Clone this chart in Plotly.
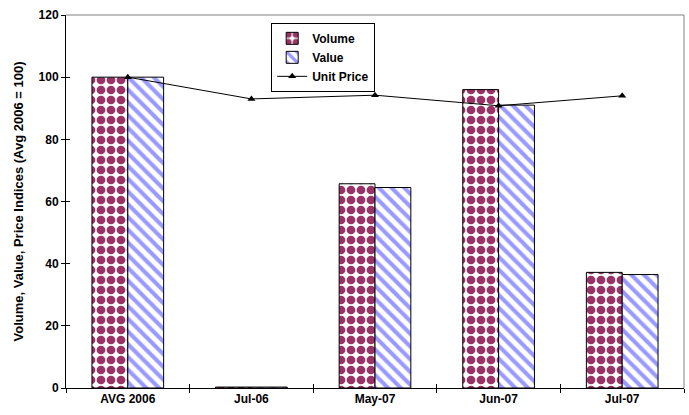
import plotly.graph_objects as go

categories = ["AVG 2006", "Jul-06", "May-07", "Jun-07", "Jul-07"]
volume = [100, 0.3, 65.7, 96.0, 37.2]
value = [100, 0.3, 64.5, 91.0, 36.5]
unit_price = [100, 93.0, 94.2, 90.8, 94.0]
y_ticks = [0, 20, 40, 60, 80, 100, 120]

FONT = "Liberation Sans, Arial, sans-serif"

fig = go.Figure()
fig.add_trace(go.Bar(
    x=categories, y=volume, name="Volume",
    marker=dict(color="white",
                line=dict(color="black", width=1),
                pattern=dict(shape=".", fgcolor="#993366", bgcolor="white",
                             size=10, solidity=0.6, fillmode="replace")),
))
fig.add_trace(go.Bar(
    x=categories, y=value, name="Value",
    marker=dict(color="white",
                line=dict(color="black", width=1),
                pattern=dict(shape="\\", fgcolor="#9999FF", bgcolor="white",
                             size=9, solidity=0.45, fillmode="replace")),
))
fig.add_trace(go.Scatter(
    x=categories, y=unit_price, name="Unit Price", mode="lines+markers",
    line=dict(color="black", width=1),
    marker=dict(symbol="triangle-up", size=7, color="black"),
))
# invisible helper traces for cross ticks
fig.add_trace(go.Scatter(x=categories, y=unit_price, xaxis="x2", yaxis="y2",
                         mode="markers", marker=dict(opacity=0), showlegend=False,
                         hoverinfo="skip"))

fig.update_layout(
    width=689, height=415,
    margin=dict(l=66, r=5, t=15, b=27),
    paper_bgcolor="white", plot_bgcolor="white",
    barmode="group", bargap=0.42, bargroupgap=0,
    font=dict(family=FONT, size=12, color="black"),
    showlegend=True,
    legend=dict(x=0.332, y=0.979, xanchor="left", yanchor="top",
                bordercolor="black", borderwidth=1, bgcolor="white",
                font=dict(family=FONT, size=12, color="black", weight="bold"),
                tracegroupgap=0, itemwidth=30),
    xaxis=dict(type="category", categoryarray=categories, tickson="boundaries",
               ticks="outside", ticklen=4, tickcolor="black",
               showline=True, linecolor="black", linewidth=1,
               mirror=False, showgrid=False,
               tickfont=dict(family=FONT, size=12, weight="bold")),
    yaxis=dict(range=[0, 120], tickvals=y_ticks, ticks="outside", ticklen=4,
               tickcolor="black", showline=True, linecolor="black", linewidth=1,
               showgrid=False, zeroline=False,
               tickfont=dict(family=FONT, size=12, weight="bold"),
               title=dict(text="Volume, Value, Price Indices (Avg 2006 = 100)",
                          font=dict(family=FONT, size=13, weight="bold"), standoff=12)),
    xaxis2=dict(type="category", categoryarray=categories, tickson="boundaries",
                overlaying="x", ticks="inside", ticklen=4, tickcolor="black",
                showticklabels=False, showgrid=False, showline=False,
                matches="x"),
    yaxis2=dict(range=[0, 120], tickvals=y_ticks, overlaying="y", ticks="inside",
                ticklen=4, tickcolor="black", showticklabels=False,
                showgrid=False, zeroline=False, showline=False),
    shapes=[
        dict(type="line", xref="paper", yref="paper", x0=0, x1=1, y0=1, y1=1,
             line=dict(color="#808080", width=1)),
        dict(type="line", xref="paper", yref="paper", x0=1, x1=1, y0=0, y1=1,
             line=dict(color="#808080", width=1)),
    ],
)

fig.write_html("out.html")
